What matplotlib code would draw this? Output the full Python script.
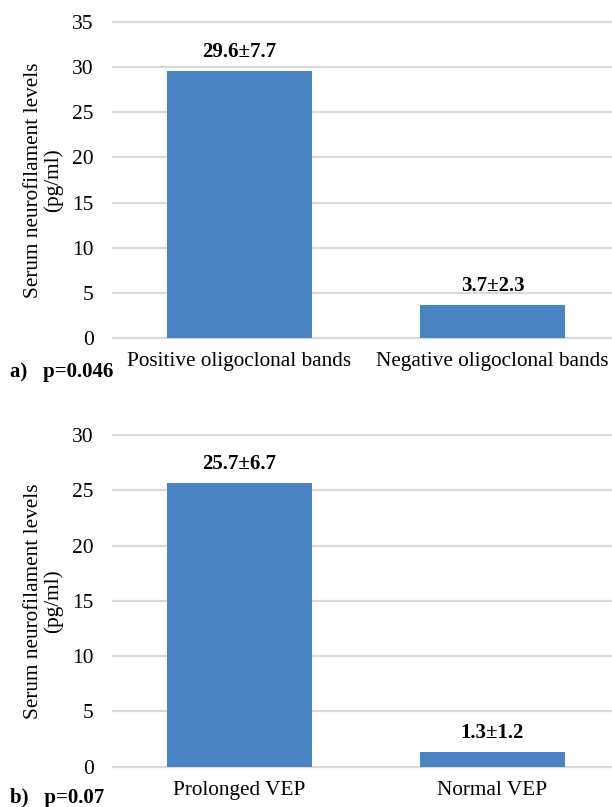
import matplotlib
matplotlib.use("Agg")
import matplotlib.pyplot as plt

plt.rcParams['font.family'] = ['Liberation Serif', 'DejaVu Serif']

cats_a = ["Positive oligoclonal bands", "Negative oligoclonal bands"]
vals_a = [29.6, 3.7]
labels_a = ["29.6±7.7", "3.7±2.3"]
yticks_a = [0, 5, 10, 15, 20, 25, 30, 35]

cats_b = ["Prolonged VEP", "Normal VEP"]
vals_b = [25.7, 1.3]
labels_b = ["25.7±6.7", "1.3±1.2"]
yticks_b = [0, 5, 10, 15, 20, 25, 30]

bar_color = "#4A83C1"
grid_color = "#D9D9D9"

W, H = 612, 807
fig = plt.figure(figsize=(W / 100, H / 100), dpi=100)

def draw(ax, cats, vals, labels, yticks, panel_text, panel_y):
    x = list(range(len(cats)))
    bars = ax.bar(x, vals, width=0.573, color=bar_color, zorder=3)
    ax.set_xlim(-0.5, 1.5)
    ax.set_ylim(yticks[0], yticks[-1])
    ax.set_yticks(yticks)
    ax.set_xticks(x)
    ax.set_xticklabels(cats, fontsize=15.3)
    ax.tick_params(axis='y', length=0, pad=14, labelsize=15.5)
    ax.tick_params(axis='x', length=0, pad=10)
    for s in ax.spines.values():
        s.set_visible(False)
    for t in yticks:
        ax.axhline(t, color=grid_color, lw=1.6, zorder=1, clip_on=False)
    for b, lab in zip(bars, labels):
        ax.annotate(lab, (b.get_x() + b.get_width() / 2, b.get_height()),
                    xytext=(0, 13.7), textcoords='offset points',
                    ha='center', va='center', fontsize=15, fontweight='bold')
    pos = ax.get_position()
    fig.text(43.5 / W, pos.y0 + pos.height / 2,
             "Serum neurofilament levels\n(pg/ml)", fontsize=15.3,
             rotation=90, ha='center', va='center', multialignment='center',
             linespacing=1.0)
    fig.text(10 / W, panel_y, panel_text, fontsize=15, fontweight='bold',
             ha='left', va='center')

ax_left = 113 / W
ax_width = 506 / W

ax1 = fig.add_axes([ax_left, 1 - 338.3 / H, ax_width, (338.3 - 21.7) / H])
draw(ax1, cats_a, vals_a, labels_a, yticks_a, "a)   p=0.046", 1 - 371.7 / H)

ax2 = fig.add_axes([ax_left, 1 - 766.7 / H, ax_width, (766.7 - 435.0) / H])
draw(ax2, cats_b, vals_b, labels_b, yticks_b, "b)   p=0.07", 1 - 798 / H)

fig.savefig("out.png", dpi=100)
